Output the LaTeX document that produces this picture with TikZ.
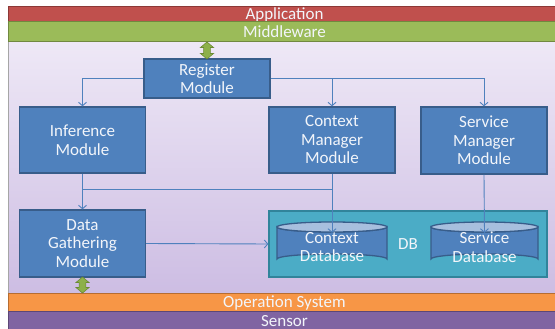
\documentclass[tikz,border=0pt]{standalone}
\usepackage{fontspec}
\setmainfont{Carlito}
\usetikzlibrary{arrows.meta,shapes.arrows}
\definecolor{appred}{HTML}{C0504D}
\definecolor{appredD}{HTML}{8C3836}
\definecolor{mwgreen}{HTML}{9BBB59}
\definecolor{mwgreenD}{HTML}{71893F}
\definecolor{osorange}{HTML}{F79646}
\definecolor{osorangeD}{HTML}{B66D31}
\definecolor{senpurple}{HTML}{8064A2}
\definecolor{senpurpleD}{HTML}{5C4776}
\definecolor{panelTop}{HTML}{EEE8F6}
\definecolor{panelBot}{HTML}{CDBDE3}
\definecolor{modfill}{HTML}{4F81BD}
\definecolor{moddraw}{HTML}{385D8A}
\definecolor{dbfill}{HTML}{4BACC6}
\definecolor{dbdraw}{HTML}{31849B}
\definecolor{cylend}{HTML}{A7BFDE}
\definecolor{conncol}{HTML}{4F81BD}
\definecolor{txtcol}{HTML}{F2F5FA}
\definecolor{dblfill}{HTML}{8DB04A}
\definecolor{dbldraw}{HTML}{6B8A33}
\tikzset{
  lbl/.style={text=txtcol, font=\fontsize{17}{18.5}\selectfont, align=center},
  bar/.style={lbl, minimum width=552pt, inner sep=0pt, anchor=west, text height=11pt, text depth=0pt},
  modbox/.style={lbl, fill=modfill, draw=moddraw, line width=1.3pt, minimum width=126pt, inner sep=0pt},
  dbbox/.style={lbl, fill=dbfill, draw=dbdraw, line width=1.3pt, inner sep=0pt},
  cyl/.style={lbl, minimum width=110pt, minimum height=42pt, inner sep=0pt},
  conn/.style={draw=conncol, line width=0.9pt, -{Straight Barb[length=3.5pt,width=8pt]}},
  plain/.style={draw=conncol, line width=0.9pt},
  dbl/.style={double arrow, shape border rotate=90, fill=dblfill, draw=dbldraw, line width=0.6pt,
     minimum width=13pt, inner sep=3pt, double arrow head extend=3pt, double arrow tip angle=100}
}
\begin{document}
\begin{tikzpicture}[x=1pt,y=-1pt]
\useasboundingbox (0,0) rectangle (555,329);
% panel
\fill[top color=panelTop, bottom color=panelBot] (8,42) rectangle (560,293);
\draw[gray!70, line width=0.8pt] (8,42) -- (8,293);
% layer bars
\node[bar, fill=appred, draw=appredD, line width=1pt, minimum height=15pt] (app) at (8,14.5) {Application};
\node[bar, fill=mwgreen, draw=mwgreenD, line width=1pt, minimum height=20pt] (mw) at (8,32) {Middleware};
\node[bar, fill=osorange, draw=osorangeD, line width=1pt, minimum height=18pt] (os) at (8,302) {Operation System};
\node[bar, fill=senpurple, draw=senpurpleD, line width=1pt, minimum height=19pt] (sen) at (8,320.5) {Sensor};
% modules
\node[modbox, minimum height=39pt] (reg) at (207,78.5) {Register\\Module};
\node[modbox, minimum height=66pt] (inf) at (82.5,140) {Inference\\Module};
\node[modbox, minimum height=66pt] (cm) at (332,140) {Context\\Manager\\Module};
\node[modbox, minimum height=67pt] (sm) at (484,140.5) {Service\\Manager\\Module};
\node[modbox, minimum height=67pt] (dg) at (82.5,243.5) {Data\\Gathering\\Module};
\node[dbbox, minimum width=278pt, minimum height=66pt] (db) at (408,244) {DB};
% cylinders
\foreach \cx/\rx in {332/55, 484.5/53.5}{
  \path[fill=modfill, draw=moddraw, line width=1.3pt]
    (\cx-\rx,227) -- (\cx-\rx,259) arc[start angle=180, end angle=360, x radius=\rx, y radius=5] -- (\cx+\rx,227)
    arc[start angle=0, end angle=180, x radius=\rx, y radius=5] -- cycle;
  \path[fill=cylend, draw=moddraw, line width=1.3pt] (\cx,227) ellipse[x radius=\rx, y radius=5];
}
\node[cyl, minimum height=36pt] (cdb) at (332,247) {Context\\Database};
\node[cyl, minimum width=107pt, minimum height=36pt] (sdb) at (484.5,247) {Service\\Database};
% connectors
\coordinate (brL) at (82.5,189);
\coordinate (brR) at (332,189);
\draw[conn] (reg.west) -| (inf.north);
\draw[conn] (reg.east) -| (sm.north);
\draw[conn] (reg.east -| cm.north) -- (cm.north);
\draw[conn] (inf.south) -- (dg.north);
\draw[plain] (brL) -- (brR);
\draw[conn] (cm.south) -- ([yshift=-4pt]cdb.north);
\draw[conn] (sm.south) -- ([yshift=-4pt]sdb.north);
\draw[conn] (dg.east) -- (db.west);
% green double arrows
\node[dbl, minimum height=17pt] (ga1) at (207,50.5) {};
\node[dbl, minimum height=16pt] (ga2) at (82.5,285) {};
\end{tikzpicture}
\end{document}
